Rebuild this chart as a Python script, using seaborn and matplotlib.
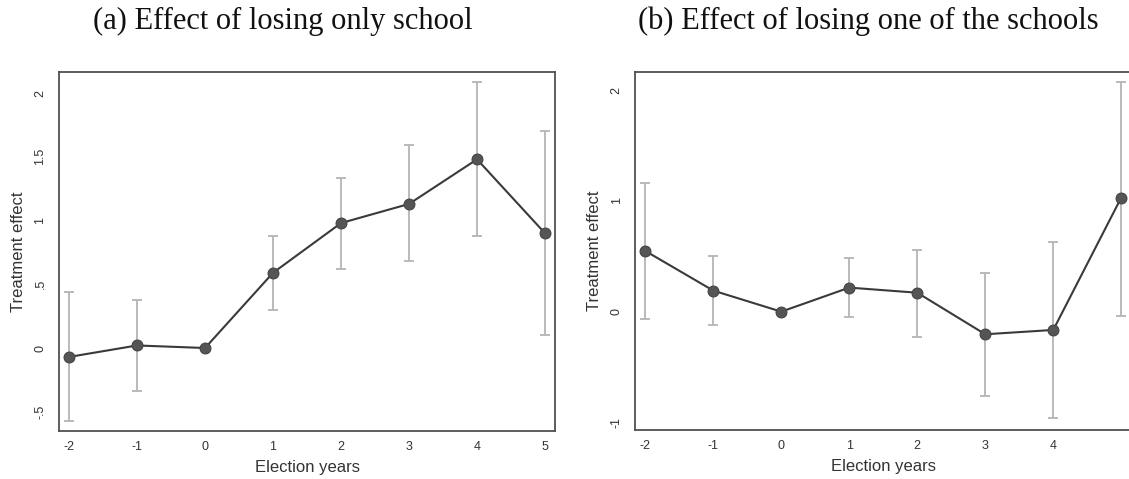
import numpy as np
import pandas as pd
import matplotlib
matplotlib.use("Agg")
import matplotlib.pyplot as plt
import seaborn as sns

# Event-study estimates with 95% confidence bounds
years = [-2, -1, 0, 1, 2, 3, 4, 5]

effect_a = [-0.07, 0.02, 0.0, 0.59, 0.98, 1.13, 1.48, 0.90]
lower_a = [-0.57, -0.335, 0.0, 0.30, 0.62, 0.68, 0.88, 0.105]
upper_a = [0.437, 0.38, 0.0, 0.88, 1.33, 1.59, 2.09, 1.70]

effect_b = [0.548, 0.19, 0.0, 0.217, 0.171, -0.204, -0.165, 1.03]
lower_b = [-0.066, -0.12, 0.0, -0.05, -0.226, -0.76, -0.957, -0.036]
upper_b = [1.164, 0.505, 0.0, 0.487, 0.557, 0.352, 0.626, 2.076]

titles = ["(a) Effect of losing only school", "(b) Effect of losing one of the schools"]
yticks_a = [-0.5, 0, 0.5, 1, 1.5, 2]
yticklabels_a = ["-.5", "0", ".5", "1", "1.5", "2"]
yticks_b = [-1, 0, 1, 2]
yticklabels_b = ["-1", "0", "1", "2"]
xticks_a = [-2, -1, 0, 1, 2, 3, 4, 5]
xticks_b = [-2, -1, 0, 1, 2, 3, 4]

sns.set_style("white")
plt.rcParams["font.family"] = ["Liberation Sans", "DejaVu Sans"]

fig = plt.figure(figsize=(11.29, 4.79), dpi=100)
ax_a = fig.add_axes([0.0523, 0.1002, 0.4393, 0.7495])
ax_b = fig.add_axes([0.5627, 0.1023, 0.4393, 0.7474])

frame_col = "#505050"
line_col = "#3a3a3a"
ci_col = "#b4b4b4"


def draw_panel(ax, eff, lo, hi, yticks, ylabels, xticks, ylim):
    df = pd.DataFrame({"year": years, "effect": eff, "lo": lo, "hi": hi})
    ci = df[df["hi"] > df["lo"]]
    ax.errorbar(ci["year"], ci["effect"],
                yerr=[ci["effect"] - ci["lo"], ci["hi"] - ci["effect"]],
                fmt="none", ecolor=ci_col, elinewidth=1.3, capsize=3.9,
                capthick=1.3, zorder=1)
    sns.lineplot(data=df, x="year", y="effect", ax=ax, color=line_col,
                 linewidth=1.5, marker="o", markersize=7.8,
                 markerfacecolor="#555555", markeredgecolor="#444444",
                 markeredgewidth=0.8, zorder=3)
    ax.set_xlim(-2.147, 5.147)
    ax.set_ylim(*ylim)
    ax.set_xticks(xticks)
    ax.set_xticklabels([str(t) for t in xticks])
    ax.set_yticks(yticks)
    ax.set_yticklabels(ylabels, rotation=90, va="center")
    ax.set_xlabel("Election years", fontsize=12, color="#333333", labelpad=5)
    ax.set_ylabel("Treatment effect", fontsize=12, color="#333333", labelpad=6)
    ax.tick_params(axis="both", direction="out", colors=frame_col,
                   labelcolor="#333333", labelsize=9, width=1.0)
    ax.tick_params(axis="x", length=5, pad=2)
    ax.tick_params(axis="y", length=6, pad=3)
    for sp in ax.spines.values():
        sp.set_visible(True)
        sp.set_color(frame_col)
        sp.set_linewidth(1.3)
    ax.set_facecolor("white")


draw_panel(ax_a, effect_a, lower_a, upper_a, yticks_a, yticklabels_a,
           xticks_a, (-0.651, 2.165))
draw_panel(ax_b, effect_b, lower_b, upper_b, yticks_b, yticklabels_b,
           xticks_b, (-1.068, 2.163))

fig.text(0.2507, 0.9395, titles[0], ha="center", va="baseline",
         fontsize=22, family=["Liberation Serif", "DejaVu Serif"], color="#111111")
fig.text(0.769, 0.9395, titles[1], ha="center", va="baseline",
         fontsize=22, family=["Liberation Serif", "DejaVu Serif"], color="#111111")

fig.savefig("out.png", dpi=100, facecolor="white")
